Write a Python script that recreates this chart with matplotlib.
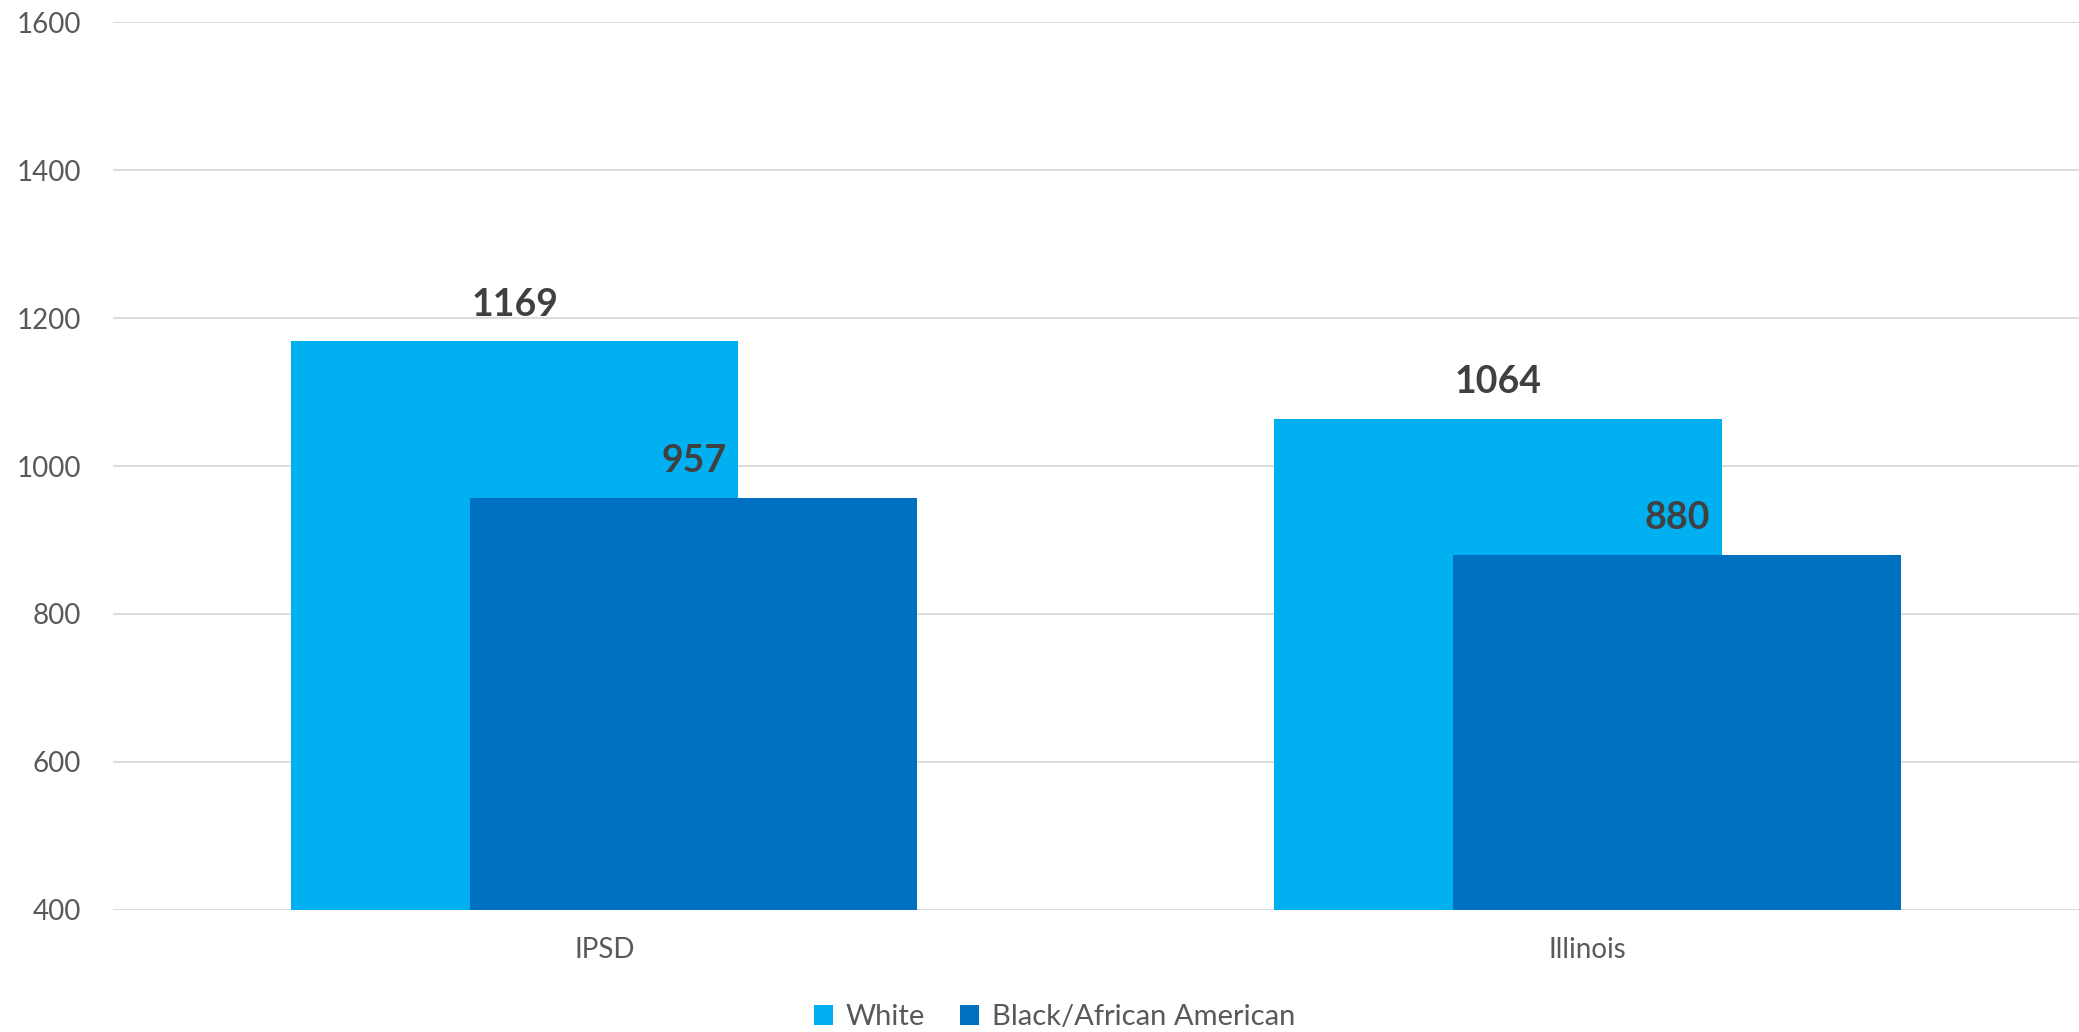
import matplotlib.pyplot as plt
import numpy as np

plt.rcParams['font.family'] = ['Lato', 'DejaVu Sans']

# --- Data

categories = ["IPSD", "Illinois"]
series_names = ["White", "Black/African American"]
white = [1169, 1064]
black = [957, 880]

colors = ["#00B0F0", "#0070C0"]

# --- Figure

fig = plt.figure(figsize=(20.79, 10.32), dpi=100)
ax = fig.add_axes([0.0542, 0.1186, 0.9458, 0.8596])

x = np.arange(len(categories))
width = 0.455
shift = 0.091

bars_w = ax.bar(x - shift, white, width, bottom=0, color=colors[0],
                label=series_names[0], zorder=2)
bars_b = ax.bar(x + shift, black, width, bottom=0, color=colors[1],
                label=series_names[1], zorder=3)

for bars, vals in ((bars_w, white), (bars_b, black)):
    for b, v in zip(bars, vals):
        ax.annotate(str(v), (b.get_x() + b.get_width() / 2, v),
                    xytext=(0, 14), textcoords="offset points",
                    ha="center", va="bottom", fontsize=27,
                    fontweight="bold", color="#404040", zorder=4)

ax.set_ylim(400, 1600)
ax.set_xlim(-0.5, 1.5)
ax.set_yticks(range(400, 1601, 200))
ax.set_xticks(x)
ax.set_xticklabels(categories)
ax.tick_params(axis="both", length=0, labelsize=20, colors="#595959")
ax.tick_params(axis="x", pad=20)
ax.tick_params(axis="y", pad=23)
ax.yaxis.grid(True, color="#D9D9D9", linewidth=1.3, zorder=0)
ax.set_axisbelow(True)
for s in ax.spines.values():
    s.set_visible(False)

leg = ax.legend(loc="center", bbox_to_anchor=(0.479, -0.1212), ncol=2,
                frameon=False, fontsize=21, handlelength=0.65,
                handleheight=0.65, handletextpad=0.45, columnspacing=1.2)
for t in leg.get_texts():
    t.set_color("#595959")

fig.savefig("out.png", dpi=100)
